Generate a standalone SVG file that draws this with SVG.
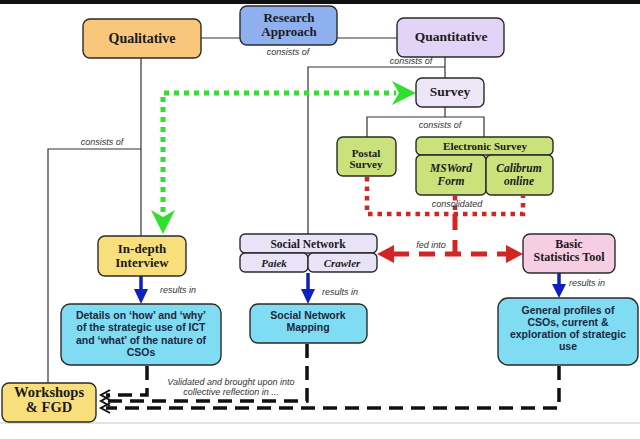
<svg xmlns="http://www.w3.org/2000/svg" width="640" height="439" viewBox="0 0 640 439">
<style>
.box{stroke:#2a2a2a;stroke-width:1.4}
.t{font-family:"Liberation Serif",serif;font-weight:bold;fill:#1a1a1a;text-anchor:middle}
.ti{font-family:"Liberation Serif",serif;font-weight:bold;font-style:italic;fill:#1a1a1a;text-anchor:middle}
.s{font-family:"Liberation Sans",Arial,sans-serif;font-weight:bold;fill:#1a2840;text-anchor:middle;font-size:10.5px}
.lab{font-family:"Liberation Sans",Arial,sans-serif;font-style:italic;fill:#333;font-size:9px}
.ln{fill:none;stroke:#333;stroke-width:1.2}
.grn{fill:none;stroke:#2fe02f;stroke-width:5;stroke-dasharray:5 5}
.rdot{fill:none;stroke:#d42525;stroke-width:4.5;stroke-dasharray:4.5 5}
.rdash{fill:none;stroke:#d42525;stroke-width:5;stroke-dasharray:16 10}
.blu{fill:none;stroke:#1020c0;stroke-width:3.5}
.bd{fill:none;stroke:#111;stroke-width:3.5;stroke-dasharray:14 8}
.chev{fill:none;stroke:#111;stroke-width:2}
</style>
<rect x="0" y="0" width="640" height="439" fill="#fff"/>
<rect x="0" y="0" width="640" height="4" fill="#111"/>
<line x1="0" y1="423" x2="640" y2="423" stroke="#e2e2e2" stroke-width="2"/>

<g id="connectors">
  <path class="ln" d="M201 38H240M337 38H397"/>
  <path class="ln" d="M445 57V78M445 67H308V234"/>
  <path class="ln" d="M445 107V117M367 137V117H484V137"/>
  <path class="ln" d="M141 58V236M141 149H48V383"/>
  <text class="lab" x="288" y="55" text-anchor="middle">consists of</text>
  <text class="lab" x="411" y="64" text-anchor="middle">consists of</text>
  <text class="lab" x="440" y="128" text-anchor="middle">consists of</text>
  <text class="lab" x="102" y="145" text-anchor="middle">consists of</text>

  <path class="grn" d="M163 212V93H396"/>
  <polygon points="416,93 392,81 399,93 392,105" fill="#2fe02f"/>
  <polygon points="163,234 151,210 163,217 175,210" fill="#2fe02f"/>

  <path class="rdot" d="M367 177V214H523V196"/>
  <path class="rdot" d="M455 196V214"/>
  <path class="rdash" d="M455 214V262" stroke-dasharray="20 10"/>
  <path class="rdash" d="M393 254H508"/>
  <polygon points="377,254 394,245 394,263" fill="#d42525"/>
  <polygon points="523,254 506,245 506,263" fill="#d42525"/>
  <text class="lab" x="457" y="207" text-anchor="middle">consolidated</text>
  <text class="lab" x="431" y="248" text-anchor="middle">fed into</text>

  <path class="blu" d="M141 276V291M308 273V291M559 273V286"/>
  <polygon points="141,304 134,289 148,289" fill="#1020c0"/>
  <polygon points="308,304 301,289 315,289" fill="#1020c0"/>
  <polygon points="559,298 552,284 566,284" fill="#1020c0"/>
  <text class="lab" x="160" y="293">results in</text>
  <text class="lab" x="322" y="295">results in</text>
  <text class="lab" x="569" y="286">results in</text>

  <path class="bd" d="M147 366V395H106"/>
  <path class="bd" d="M307 344V401H106"/>
  <path class="bd" d="M559 366V408H106"/>
  <path class="chev" d="M110 390L101 395L110 400M110 396L101 401L110 406M110 403L101 408L110 413"/>
  <text class="lab" x="231" y="385" text-anchor="middle" font-size="8.8">Validated and brought upon into</text>
  <text class="lab" x="231" y="395" text-anchor="middle" font-size="8.8">collective reflection in ...</text>
</g>

<g id="qualitative">
  <rect class="box" x="83" y="19" width="118" height="39" rx="7" fill="#f8c77c"/>
  <text class="t" x="142" y="43" font-size="14">Qualitative</text>
</g>
<g id="research-approach">
  <rect class="box" x="240" y="6" width="97" height="39" rx="7" fill="#8eb0ef"/>
  <text class="t" x="289" y="22" font-size="13">Research</text>
  <text class="t" x="289" y="36" font-size="13">Approach</text>
</g>
<g id="quantitative">
  <rect class="box" x="397" y="18" width="107" height="39" rx="7" fill="#e2d4f7"/>
  <text class="t" x="451" y="41" font-size="13.5">Quantitative</text>
</g>
<g id="survey">
  <rect class="box" x="416" y="78" width="68" height="29" rx="6" fill="#ece6f7"/>
  <text class="t" x="450" y="96" font-size="13.5">Survey</text>
</g>
<g id="postal-survey">
  <rect class="box" x="337" y="137" width="59" height="39" rx="6" fill="#cbe17c"/>
  <text class="t" x="366" y="157" font-size="11">Postal</text>
  <text class="t" x="366" y="168" font-size="11">Survey</text>
</g>
<g id="electronic-survey">
  <rect class="box" x="416" y="137" width="137" height="18" rx="5" fill="#cbe17c"/>
  <text class="t" x="485" y="150" font-size="11">Electronic Survey</text>
  <rect class="box" x="416" y="155" width="70" height="40" rx="5" fill="#cbe17c"/>
  <text class="ti" x="451" y="172" font-size="11.5">MSWord</text>
  <text class="ti" x="451" y="185" font-size="11.5">Form</text>
  <rect class="box" x="486" y="155" width="67" height="40" rx="5" fill="#cbe17c"/>
  <text class="ti" x="519" y="172" font-size="11.5">Calibrum</text>
  <text class="ti" x="519" y="185" font-size="11.5">online</text>
</g>
<g id="in-depth-interview">
  <rect class="box" x="98" y="236" width="88" height="40" rx="7" fill="#f9df7c"/>
  <text class="t" x="142" y="253" font-size="13">In-depth</text>
  <text class="t" x="142" y="267" font-size="13">Interview</text>
</g>
<g id="social-network">
  <rect class="box" x="240" y="234" width="137" height="19" rx="5" fill="#e9e3f7"/>
  <text class="t" x="308" y="248" font-size="11.5">Social Network</text>
  <rect class="box" x="240" y="253" width="68" height="19" rx="5" fill="#e9e3f7"/>
  <text class="ti" x="274" y="267" font-size="11">Paiek</text>
  <rect class="box" x="308" y="253" width="69" height="19" rx="5" fill="#e9e3f7"/>
  <text class="ti" x="342" y="267" font-size="11">Crawler</text>
</g>
<g id="basic-statistics-tool">
  <rect class="box" x="523" y="234" width="92" height="39" rx="7" fill="#f7cde4"/>
  <text class="t" x="569" y="248" font-size="12">Basic</text>
  <text class="t" x="569" y="261" font-size="12">Statistics Tool</text>
</g>
<g id="details">
  <rect class="box" x="61" y="304" width="160" height="61" rx="9" fill="#7fdcf2"/>
  <text class="s" x="141" y="319">Details on ‘how’ and ‘why’</text>
  <text class="s" x="141" y="331">of the strategic use of ICT</text>
  <text class="s" x="141" y="344">and ‘what’ of the nature of</text>
  <text class="s" x="141" y="356">CSOs</text>
</g>
<g id="social-network-mapping">
  <rect class="box" x="250" y="304" width="117" height="39" rx="8" fill="#7fdcf2"/>
  <text class="s" x="308" y="319">Social Network</text>
  <text class="s" x="308" y="331">Mapping</text>
</g>
<g id="general-profiles">
  <rect class="box" x="498" y="298" width="140" height="67" rx="10" fill="#7fdcf2"/>
  <text class="s" x="568" y="314">General profiles of</text>
  <text class="s" x="568" y="326">CSOs, current &amp;</text>
  <text class="s" x="568" y="338">exploration of strategic</text>
  <text class="s" x="568" y="350">use</text>
</g>
<g id="workshops-fgd">
  <rect class="box" x="2" y="383" width="94" height="39" rx="7" fill="#f9df7c"/>
  <text class="t" x="49" y="397" font-size="14.5">Workshops</text>
  <text class="t" x="49" y="412" font-size="14.5">&amp; FGD</text>
</g>
</svg>
